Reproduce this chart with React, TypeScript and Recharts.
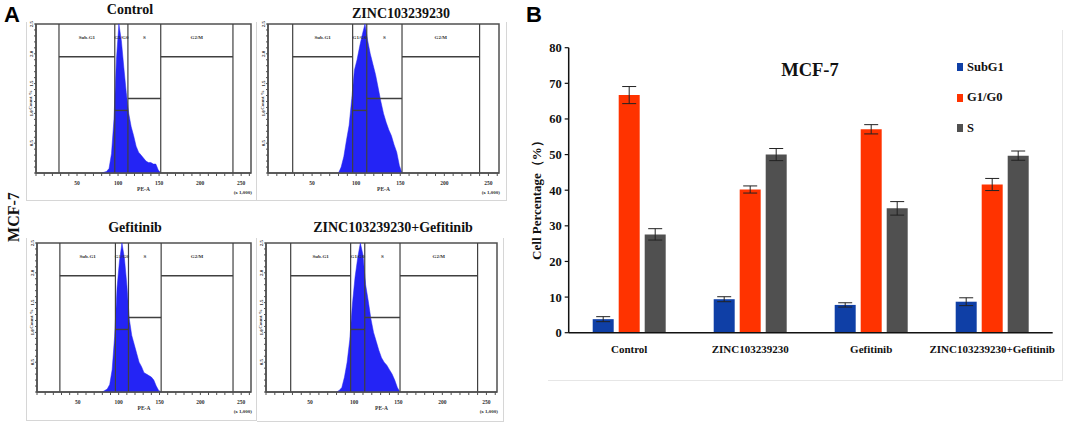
import React from "react";
import {
  AreaChart, Area, BarChart, Bar, ErrorBar, XAxis, YAxis,
  ReferenceLine, ReferenceArea,
} from "recharts";

const SERIF = '"Liberation Serif", "Times New Roman", serif';
const SANS = '"Liberation Sans", Arial, sans-serif';

/* ---------- panel A: PE-A histograms (x1,000), counts as % of modal bin ---------- */
const peBins = [80, 83, 86, 89, 92, 95, 98, 101, 104, 107, 110, 113, 116, 119, 122, 125, 128, 131, 134, 137, 140, 143, 146, 149, 152];
const controlCounts = [0, 0.5, 1, 3, 13, 36, 76, 100, 89, 71, 54, 40, 31, 25, 18, 14, 12, 10, 8, 7, 7, 6, 6, 2, 0];
const zincCounts = [0, 4, 11, 22, 32, 50, 69, 76, 85, 93, 100, 89, 80, 73, 66, 57, 48, 40, 34, 29, 25, 19, 14, 5, 0];
const gefCounts = [0, 1, 2, 5, 15, 37, 70, 88, 100, 90, 72, 49, 38, 32, 26, 20, 17, 13, 12, 11, 10, 8, 4, 1, 0];
const comboCounts = [0, 1, 3, 10, 20, 35, 59, 77, 90, 100, 92, 72, 61, 49, 40, 34, 28, 23, 20, 18, 15, 12, 8, 3, 0];

const peTicks = [0, 10, 20, 30, 40, 50, 60, 70, 80, 90, 100, 110, 120, 130, 140, 150, 160, 170, 180, 190, 200, 210, 220, 230, 240, 250, 260];
const peLabelTicks = [50, 100, 150, 200, 250];
const countTicks = [0, 4, 8, 12, 16, 20, 24, 28, 32, 36, 40, 44, 48, 52, 56, 60, 64, 68, 72, 76, 80, 84, 88, 92, 96, 100];
const countLabelTicks = [20, 40, 60, 80, 100];
const countLabels = ["0.5", "1.0", "1.5", "2.0", "2.5"];

const gateEdges = [28, 96, 112, 152, 240];
const gateLevels = [78, 42, 50, 78];
const gateNames = ["Sub-G1", "G1/G0", "S", "G2/M"];

/* ---------- panel B: cell cycle distribution ---------- */
const groups = ["Control", "ZINC103239230", "Gefitinib", "ZINC103239230+Gefitinib"];
const subG1 = [3.8, 9.4, 7.8, 8.7];
const subG1Err = [0.7, 0.7, 0.6, 1.1];
const g1g0 = [66.7, 40.2, 57.1, 41.6];
const g1g0Err = [2.4, 1.0, 1.3, 1.7];
const sPhase = [27.6, 50.0, 34.9, 49.7];
const sPhaseErr = [1.6, 1.7, 1.9, 1.3];
const pctTicks = [0, 10, 20, 30, 40, 50, 60, 70, 80];

const series = [
  { key: "subG1", err: "subG1Err", name: "SubG1", color: "#0f3fa6" },
  { key: "g1g0", err: "g1g0Err", name: "G1/G0", color: "#ff3300" },
  { key: "sPhase", err: "sPhaseErr", name: "S", color: "#505050" },
];

function PeTick({ x, y, payload }: any) {
  if (!peLabelTicks.includes(payload.value)) return <g />;
  return (
    <text x={x} y={y + 8} textAnchor="middle" fontSize={5.5} fontWeight="bold" style={{ fontFamily: SERIF }} fill="#333">
      {payload.value}
    </text>
  );
}

function CountTick({ x, y, payload }: any) {
  const i = countLabelTicks.indexOf(payload.value);
  if (i < 0) return <g />;
  return (
    <text x={x} y={y} transform={`rotate(-90 ${x} ${y})`} textAnchor="middle" fontSize={5} fontWeight="bold" style={{ fontFamily: SERIF }} fill="#333">
      {countLabels[i]}
    </text>
  );
}

function GroupTick({ x, y, payload }: any) {
  return (
    <text x={x} y={y + 18} textAnchor="middle" fontSize={11} fontWeight="bold" style={{ fontFamily: SERIF }} fill="#111">
      {payload.value}
    </text>
  );
}

function PctTick({ x, y, payload }: any) {
  return (
    <text x={x} y={y + 4.5} textAnchor="end" fontSize={12.5} fontWeight="bold" style={{ fontFamily: SERIF }} fill="#111">
      {payload.value}
    </text>
  );
}

interface FlowProps {
  left: number;
  top: number;
  width: number;
  title: string;
  titleX: number;
  titleY: number;
  counts: number[];
}

function FlowPanel({ left, top, width, title, titleX, titleY, counts }: FlowProps) {
  const data = peBins.map((pe, i) => ({ pe, count: counts[i] }));
  const small = { fontSize: 5.5, fontWeight: "bold" as const, fontFamily: SERIF, fill: "#333" };
  return (
    <>
      <div style={{
        position: "absolute", left: titleX, top: titleY, transform: "translate(-50%, -50%)",
        fontFamily: SERIF, fontWeight: "bold", fontSize: 14, whiteSpace: "nowrap", color: "#111",
      }}>{title}</div>
      <div style={{ position: "absolute", left, top, width, height: 200 }}>
        <AreaChart width={width} height={200} data={data} margin={{ top: 24, right: 9, bottom: 0, left: 0 }}>
          <XAxis
            type="number" dataKey="pe" domain={[0, 262]} ticks={peTicks} interval={0}
            height={27} tickSize={3} tickMargin={1}
            axisLine={{ stroke: "#505050", strokeWidth: 1.5 }} tickLine={{ stroke: "#505050" }}
            tick={<PeTick />}
            label={{ value: "PE-A", position: "insideBottom", offset: 9, ...small }}
          />
          <YAxis
            type="number" domain={[0, 100]} ticks={countTicks} interval={0} width={36}
            tickSize={2} tickMargin={1}
            axisLine={{ stroke: "#505050", strokeWidth: 1.5 }} tickLine={{ stroke: "#505050" }}
            tick={<CountTick />}
          />
          <ReferenceArea x1={0} x2={262} y1={0} y2={100} fill="none" stroke="#505050" strokeWidth={1.5} />
          <Area
            type="linear" dataKey="count" stroke="#2424f5" strokeWidth={0.5}
            fill="#2424f5" fillOpacity={1} isAnimationActive={false}
          />
          {gateEdges.map((g) => (
            <ReferenceLine key={`v${g}`} segment={[{ x: g, y: 0 }, { x: g, y: 100 }]} stroke="#404040" strokeWidth={1.2} />
          ))}
          {gateLevels.map((lv, i) => (
            <ReferenceLine
              key={`h${i}`}
              segment={[{ x: gateEdges[i], y: lv }, { x: gateEdges[i + 1], y: lv }]}
              stroke="#404040" strokeWidth={1.4}
            />
          ))}
          {gateNames.map((n, i) => (
            <ReferenceArea
              key={n} x1={gateEdges[i]} x2={gateEdges[i + 1]} y1={82} y2={100}
              fill="none" stroke="none"
              label={{ value: n, position: "center", ...small, fontSize: 5 }}
            />
          ))}
        </AreaChart>
        <div style={{
          position: "absolute", right: 8, top: 190, fontFamily: SERIF, fontWeight: "bold",
          fontSize: 5, color: "#333", whiteSpace: "nowrap",
        }}>(x 1,000)</div>
        <div style={{
          position: "absolute", left: 30, top: 100, transform: "translate(-50%, -50%) rotate(-90deg)",
          fontFamily: SERIF, fontWeight: "bold", fontSize: 5, color: "#333", whiteSpace: "nowrap",
        }}>Count %</div>
      </div>
    </>
  );
}

export default function App() {
  const barData = groups.map((group, i) => ({
    group,
    subG1: subG1[i], subG1Err: subG1Err[i],
    g1g0: g1g0[i], g1g0Err: g1g0Err[i],
    sPhase: sPhase[i], sPhaseErr: sPhaseErr[i],
  }));

  const frame = "1px solid #d6d6d6";

  return (
    <div style={{ position: "absolute", left: 0, top: 0, width: 1065, height: 429, background: "#fff", overflow: "hidden" }}>
      {/* panel frames */}
      <div style={{ position: "absolute", left: 26, top: 22, width: 229, height: 178, borderLeft: frame, borderRight: frame, borderBottom: frame }} />
      <div style={{ position: "absolute", left: 257, top: 22, width: 249, height: 178, borderRight: frame, borderBottom: frame }} />
      <div style={{ position: "absolute", left: 26, top: 238, width: 229, height: 182, borderLeft: frame, borderRight: frame, borderBottom: frame }} />
      <div style={{ position: "absolute", left: 257, top: 238, width: 246, height: 183, borderRight: frame, borderBottom: frame }} />

      <div style={{ position: "absolute", left: 4, top: 2, fontFamily: SANS, fontWeight: "bold", fontSize: 22, color: "#000" }}>A</div>
      <div style={{
        position: "absolute", left: 14, top: 217, transform: "translate(-50%, -50%) rotate(-90deg)",
        fontFamily: SERIF, fontWeight: "bold", fontSize: 16, whiteSpace: "nowrap", color: "#111",
      }}>MCF-7</div>

      <FlowPanel left={0} top={0} width={260} title="Control" titleX={130} titleY={10} counts={controlCounts} />
      <FlowPanel left={232} top={0} width={276} title="ZINC103239230" titleX={401} titleY={14} counts={zincCounts} />
      <FlowPanel left={1} top={219} width={259} title="Gefitinib" titleX={135} titleY={228} counts={gefCounts} />
      <FlowPanel left={230} top={219} width={276} title="ZINC103239230+Gefitinib" titleX={393} titleY={228} counts={comboCounts} />

      {/* panel B */}
      <div style={{ position: "absolute", left: 548, top: 30, width: 514, height: 350, borderRight: "1px solid #e6e6e6", borderBottom: "1px solid #e6e6e6" }} />
      <div style={{ position: "absolute", left: 526, top: 2, fontFamily: SANS, fontWeight: "bold", fontSize: 22, color: "#000" }}>B</div>
      <div style={{ position: "absolute", left: 520, top: 0 }}>
        <BarChart
          width={545} height={429} data={barData}
          margin={{ top: 47.7, right: 12.3, bottom: 66.3, left: 0 }}
          barSize={21} barGap={5}
        >
          <XAxis
            dataKey="group" interval={0} height={30} tickLine={false} tickSize={0} tickMargin={2}
            axisLine={{ stroke: "#111", strokeWidth: 1.5 }}
            tick={<GroupTick />}
          />
          <YAxis
            type="number" domain={[0, 80]} ticks={pctTicks} interval={0} width={48.7}
            tickSize={4} tickMargin={3}
            axisLine={{ stroke: "#111", strokeWidth: 1.5 }} tickLine={{ stroke: "#111", strokeWidth: 1.2 }}
            tick={<PctTick />}
          />
          {series.map((s) => (
            <Bar key={s.key} dataKey={s.key} name={s.name} fill={s.color} isAnimationActive={false}>
              <ErrorBar dataKey={s.err} width={7} stroke="#222" strokeWidth={1} isAnimationActive={false} />
            </Bar>
          ))}
        </BarChart>
      </div>
      {/* legend */}
      <div style={{ position: "absolute", left: 957, top: 52, fontFamily: SERIF, fontWeight: "bold", fontSize: 12.5, color: "#111" }}>
        {series.map((s) => (
          <div key={s.key} style={{ display: "flex", alignItems: "center", height: 30.5 }}>
            <span style={{ display: "inline-block", width: 6, height: 8, background: s.color, marginRight: 4 }} />
            {s.name}
          </div>
        ))}
      </div>
      <div style={{
        position: "absolute", left: 810, top: 70, transform: "translate(-50%, -50%)",
        fontFamily: SERIF, fontWeight: "bold", fontSize: 18.5, color: "#111", whiteSpace: "nowrap",
      }}>MCF-7</div>
      <div style={{
        position: "absolute", left: 537, top: 197, transform: "translate(-50%, -50%) rotate(-90deg)",
        fontFamily: SERIF, fontWeight: "bold", fontSize: 13, color: "#111", whiteSpace: "nowrap",
      }}>Cell Percentage（%）</div>
    </div>
  );
}
